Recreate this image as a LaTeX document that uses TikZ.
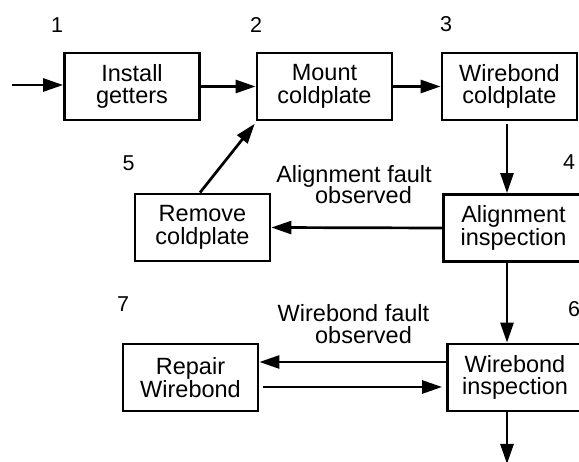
\documentclass[tikz,border=0pt]{standalone}
\usepackage{fontspec}
\setmainfont{Liberation Sans}
\usetikzlibrary{arrows.meta}
\begin{document}
\begin{tikzpicture}[x=1pt,y=1pt,
  box/.style={draw,line width=2.8pt,minimum width=135pt,minimum height=67pt,inner sep=0pt,align=center,font=\fontsize{23.5}{22.5}\selectfont},
  arr/.style={line width=2.7pt,-{Triangle[length=20pt,width=13pt]}},
  lbl/.style={anchor=base,inner sep=0pt,font=\fontsize{23.5}{20}\selectfont},
  lbltop/.style={lbl,text depth=0pt},
  num/.style={anchor=base,inner sep=0pt,font=\fontsize{21.5}{21.5}\selectfont}]
\useasboundingbox (0,0) rectangle (579,-462);
\clip (0,0) rectangle (579,-462);
% boxes
\node[box] (install) at (132,-86.5) {Install\\getters};
\node[box] (mount)   at (324.5,-86.5) {Mount\\coldplate};
\node[box] (wbcold)  at (509.5,-86.5) {Wirebond\\coldplate};
\node[box,minimum width=140pt] (align) at (513.5,-228) {Alignment\\inspection};
\node[box] (remove)  at (202.5,-227.5) {Remove\\coldplate};
\node[box] (wbinsp)  at (515,-377.5) {Wirebond\\inspection};
\node[box] (repair)  at (190.5,-377.5) {Repair\\Wirebond};
% numbers
\node[num] (n1) at (57,-33) {1};
\node[num] (n2) at (256,-33) {2};
\node[num] (n3) at (446,-32) {3};
\node[num] (n5) at (128.5,-171) {5};
\node[num] (n4) at (569,-170) {4};
\node[num] (n7) at (123,-312) {7};
\node[num] (n6) at (574,-317) {6};
% labels
\node[lbltop] (la1) at (354,-182.5) {Alignment fault};
\node[lbl] (la2) at (363.5,-204) {observed};
\node[lbltop] (lw1) at (353.5,-321.5) {Wirebond fault};
\node[lbl] (lw2) at (363.5,-343.5) {observed};
% helper coordinates
\coordinate (in) at (12,-85);
\coordinate (xl) at (507,0);
\coordinate (out) at (507,-464);
% connectors
\draw[arr] (in) -- (in -| install.west);
\draw[arr] (install.east) -- (mount.west);
\draw[arr] (mount.east) -- (wbcold.west);
\draw[arr,shorten <=3pt] (wbcold.south -| xl) -- (align.north -| xl);
\draw[arr] (align.west) -- (remove.east);
\draw[arr,shorten >=3pt] ([xshift=-2.5pt]remove.north) -- ([xshift=1pt]mount.south west);
\draw[arr] (align.south -| xl) -- (wbinsp.north -| xl);
\draw[arr] ([yshift=15.5pt]wbinsp.west) -- ([yshift=15.5pt]repair.east);
\draw[arr,shorten <=4pt,shorten >=4pt] ([yshift=-9.5pt]repair.east) -- ([yshift=-9.5pt]wbinsp.west);
\draw[arr] (wbinsp.south -| xl) -- (out);
\end{tikzpicture}
\end{document}
